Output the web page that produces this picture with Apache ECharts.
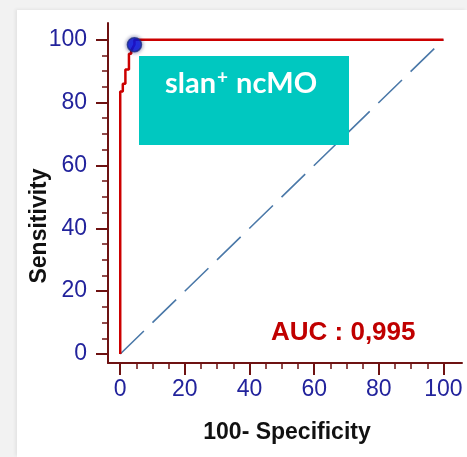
<!DOCTYPE html>
<html><head><meta charset="utf-8">
<script src="https://cdn.jsdelivr.net/npm/echarts@6/dist/echarts.min.js"></script>
<style>
html,body{margin:0;padding:0;width:467px;height:457px;background:#f2f2f2;overflow:hidden}
#bg{position:absolute;left:17px;top:10px;right:0;bottom:0;background:#fff;box-shadow:-2px -1px 3px rgba(0,0,0,0.06)}
#c{position:absolute;left:0;top:0;width:467px;height:457px}
</style></head>
<body><div id="bg"></div><div id="c"></div>
<script>
// ROC curve (100-Specificity, Sensitivity)
const rocFpr = [0, 0, 0.8, 0.8, 1.6, 1.6, 2.7, 2.7, 3.4, 3.4, 4.4, 4.4, 100];
const rocTpr = [0, 83.5, 83.5, 86, 86, 90.5, 90.5, 95.5, 95.5, 96.5, 98.4, 100, 100];
const refX = [0, 100];
const refY = [0, 100];
const cutoffPoint = [4.4, 98.4];
const majorTicks = [0, 20, 40, 60, 80, 100];
const minorTicks = [5,10,15,25,30,35,45,50,55,65,70,75,85,90,95];
const xTitle = '100- Specificity';
const yTitle = 'Sensitivity';
const aucText = 'AUC : 0,995';

const FONT = "'Liberation Sans', Arial, sans-serif";
const AX = '#6e1212';
const LAB = '#22239c';

const chart = echarts.init(document.getElementById('c'), null, {renderer:'canvas'});
const xMin = -3.78, xMax = 105.73, yMin = -2.87, yMax = 105.3;

function majorAxis(isX){
  return {
    type:'value', min: isX?xMin:yMin, max: isX?xMax:yMax,
    position: isX?'bottom':'left',
    axisLine:{show:true, onZero:false, lineStyle:{color:AX, width:2}},
    axisTick:{show:true, customValues: majorTicks, length:12, lineStyle:{color:AX, width:2}},
    axisLabel:{show:true, customValues: majorTicks, color:LAB, fontSize:23, fontFamily:FONT, margin: isX?15:21},
    splitLine:{show:false}
  };
}
function minorAxis(isX){
  return {
    type:'value', min: isX?xMin:yMin, max: isX?xMax:yMax,
    position: isX?'bottom':'left', offset:0,
    axisLine:{show:false, onZero:false},
    axisTick:{show:true, customValues: minorTicks, length:6, lineStyle:{color:AX, width:1.5}},
    axisLabel:{show:false},
    splitLine:{show:false}
  };
}

chart.setOption({
  backgroundColor:'transparent',
  animation:false,
  grid:{left:108, right:5, top:23, bottom:94, containLabel:false},
  xAxis:[majorAxis(true), minorAxis(true)],
  yAxis:[majorAxis(false), minorAxis(false)],
  series:[
    {type:'line', data: refX.map((v,i)=>[v, refY[i]]), symbol:'none',
     lineStyle:{color:'#4a78a8', width:1.6, type:[33,12]}, z:2},
    {type:'line', data: rocFpr.map((v,i)=>[v, rocTpr[i]]), symbol:'none',
     lineStyle:{color:'#cc0000', width:2.5}, z:3},
    {type:'scatter', data:[cutoffPoint], symbolSize:14,
     itemStyle:{color:'#0a18ee', borderColor:'#1b2d86', borderWidth:1.5, shadowBlur:4, shadowColor:'rgba(0,0,90,0.6)'}, z:4}
  ],
  graphic:[
    {type:'text', x:287, y:433, style:{text:xTitle, font:"bold 23px "+FONT, fill:'#111', textAlign:'center', textVerticalAlign:'middle'}},
    {type:'text', x:40, y:226, rotation:Math.PI/2, style:{text:yTitle, font:"bold 23px "+FONT, fill:'#111', textAlign:'center', textVerticalAlign:'middle'}},
    {type:'text', x:271, y:333, style:{text:aucText, font:"bold 26px "+FONT, fill:'#c00000', textAlign:'left', textVerticalAlign:'middle'}},
    {type:'rect', shape:{x:139, y:56, width:210, height:89}, style:{fill:'#00c8c0'}, z:10},
    {type:'text', x:165, y:84, z:11, style:{
      rich:{b:{font:"bold 29px Lato, 'Open Sans', sans-serif", fill:'#fff'}, s:{font:"bold 19px Lato, sans-serif", fill:'#fff', verticalAlign:'top', padding:[0,1,13,1]}},
      text:'{b|slan}{s|+}{b| ncMO}', textVerticalAlign:'middle', fill:'#fff'}}
  ]
});
</script></body></html>
